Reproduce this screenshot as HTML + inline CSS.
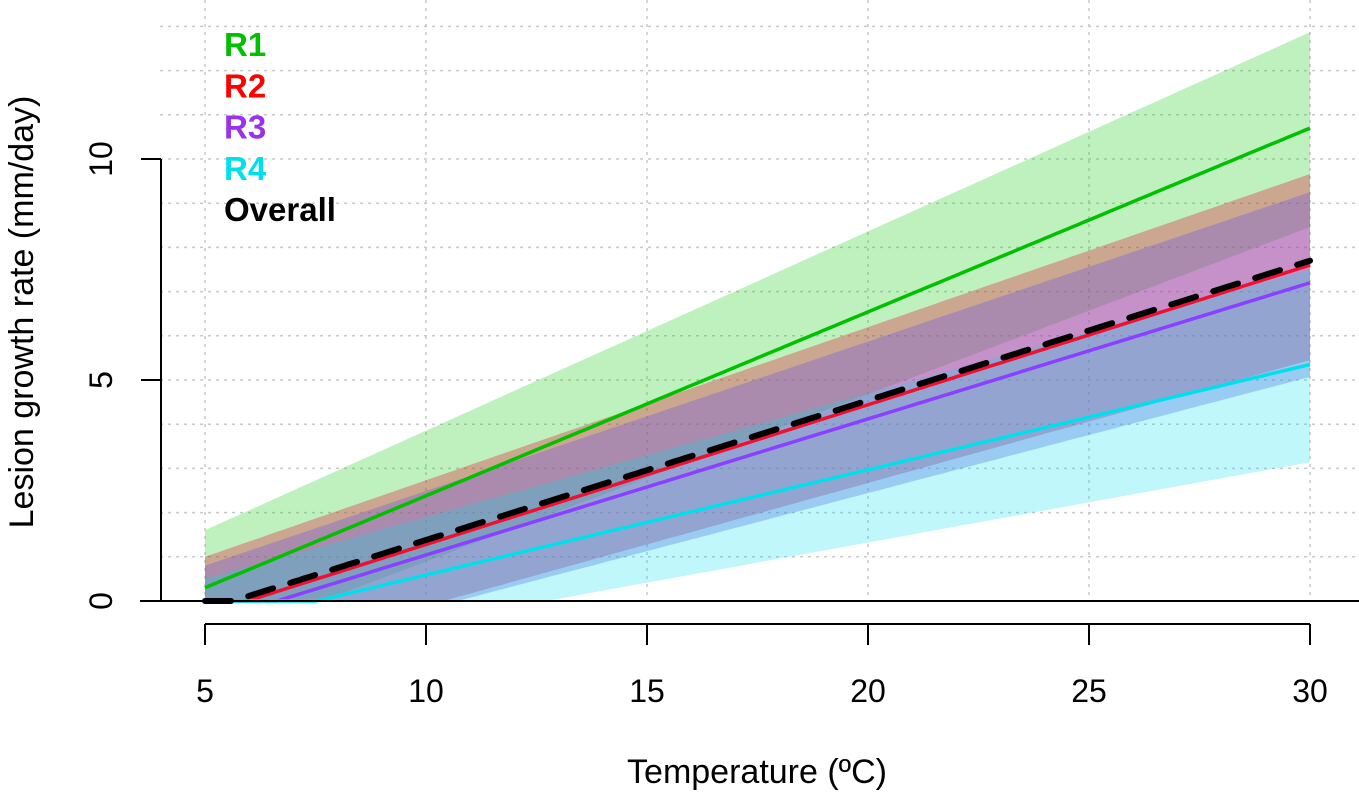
<!DOCTYPE html>
<html><head><meta charset="utf-8"><style>
html,body{margin:0;padding:0;background:#fff;}
svg{display:block;font-family:"Liberation Sans",Arial,sans-serif;}
</style></head><body>
<svg id="chart" width="1359" height="792" viewBox="0 0 1359 792">
<g id="grid"></g>
<g id="bands"></g>
<g id="lines"></g>
<g id="axes"></g>
<g id="legend"></g>
<text x="757" y="783" font-size="34" text-anchor="middle">Temperature (ºC)</text>
<text transform="translate(33,312) rotate(-90)" font-size="34" text-anchor="middle">Lesion growth rate (mm/day)</text>
</svg>
<script>
const seriesNames = ["R1","R2","R3","R4"];
const lineAt5 = [0.3, -0.3, -0.5, -0.6];
const lineAt30 = [10.7, 7.6, 7.2, 5.35];
const upperAt5 = [1.6, 1.0, 0.8, 0.5];
const upperAt30 = [12.87, 9.66, 9.25, 7.5];
const lowerAt5 = [-1.0, -1.5, -1.5, -1.4];
const lowerAt30 = [8.46, 5.45, 5.07, 3.14];
const overallAt5 = -0.2;
const overallAt30 = 7.7;
const xTicks = [5,10,15,20,25,30];
const yTicks = [0,5,10];
const xDomain = [5,30];

const NS="http://www.w3.org/2000/svg";
const X = v => 205 + (v-5)*(1105/25);
const Y = v => 601 - v*44.2;
function mk(tag, parent){const e=document.createElementNS(NS,tag);document.getElementById(parent).appendChild(e);return e;}
const lineColors=["#00c000","#ee1133","#8a40ff","#00e0ec"];
const bandColors=["rgba(40,210,40,0.3)","rgba(230,30,60,0.35)","rgba(110,90,230,0.35)","rgba(0,225,235,0.25)"];

function linVal(a,b,x){return a+(b-a)*(x-xDomain[0])/(xDomain[1]-xDomain[0]);}
function samples(a,b){const pts=[];for(let i=0;i<=200;i++){const x=xDomain[0]+(xDomain[1]-xDomain[0])*i/200;pts.push([x,Math.max(0,linVal(a,b,x))]);}return pts;}

for(let v=0;v<=13;v++){
  const l=mk('line','grid');
  
  
  l.setAttribute('x1',160);l.setAttribute('x2',1359);l.setAttribute('y1',Y(v));l.setAttribute('y2',Y(v));
  l.setAttribute('stroke','#c8c8c8');l.setAttribute('stroke-width','1.5');l.setAttribute('stroke-dasharray','3 5');
}
xTicks.forEach(t=>{
  const l=mk('line','grid');
  
  
  l.setAttribute('x1',X(t));l.setAttribute('x2',X(t));l.setAttribute('y1',0);l.setAttribute('y2',601);
  l.setAttribute('stroke','#c8c8c8');l.setAttribute('stroke-width','1.5');l.setAttribute('stroke-dasharray','3 5');
});

seriesNames.forEach((n,i)=>{
  const up=samples(upperAt5[i],upperAt30[i]);
  const lo=samples(lowerAt5[i],lowerAt30[i]).reverse();
  const p=mk('polygon','bands');
  
  
  p.setAttribute('points',up.concat(lo).map(q=>X(q[0]).toFixed(1)+','+Y(q[1]).toFixed(1)).join(' '));
  p.setAttribute('fill',bandColors[i]);
});

seriesNames.forEach((n,i)=>{
  const p=mk('polyline','lines');
  
  
  p.setAttribute('points',samples(lineAt5[i],lineAt30[i]).map(q=>X(q[0]).toFixed(1)+','+Y(q[1]).toFixed(1)).join(' '));
  p.setAttribute('fill','none');p.setAttribute('stroke',lineColors[i]);p.setAttribute('stroke-width','3.5');
});
const ov=mk('polyline','lines');


ov.setAttribute('points',samples(overallAt5,overallAt30).map(q=>X(q[0]).toFixed(1)+','+Y(q[1]).toFixed(1)).join(' '));
ov.setAttribute('fill','none');ov.setAttribute('stroke','#000');ov.setAttribute('stroke-width','6');ov.setAttribute('stroke-dasharray','26 18');ov.setAttribute('stroke-linecap','round');

function ln(x1,y1,x2,y2,name){const l=mk('line','axes');
  
  
  l.setAttribute('x1',x1);l.setAttribute('y1',y1);l.setAttribute('x2',x2);l.setAttribute('y2',y2);l.setAttribute('stroke','#000');l.setAttribute('stroke-width','2');}
ln(140,601,1359,601,'zero-line');
ln(161,Y(10),161,601,'y-axis-line');
ln(X(5),624,X(30),624,'x-axis-line');
yTicks.forEach(t=>{ln(141,Y(t),161,Y(t),'y-tick');
  const tx=mk('text','axes');
  
  
  tx.setAttribute('transform','translate(112,'+Y(t)+') rotate(-90)');tx.setAttribute('text-anchor','middle');tx.setAttribute('font-size','32');tx.textContent=t;});
xTicks.forEach(t=>{ln(X(t),624,X(t),645,'x-tick');
  const tx=mk('text','axes');
  
  
  tx.setAttribute('x',X(t));tx.setAttribute('y',702);tx.setAttribute('text-anchor','middle');tx.setAttribute('font-size','32');tx.textContent=t;});

const legNames=seriesNames.concat(["Overall"]);
const legColors=["#00c000","#ff0000","#9a30f0","#00e0ec","#000"];
legNames.forEach((n,i)=>{
  const tx=mk('text','legend');
  
  
  tx.setAttribute('x',224);tx.setAttribute('y',56+i*41.3);tx.setAttribute('font-size','33');tx.setAttribute('font-weight','bold');tx.setAttribute('fill',legColors[i]);tx.textContent=n;});
</script>
</body></html>
